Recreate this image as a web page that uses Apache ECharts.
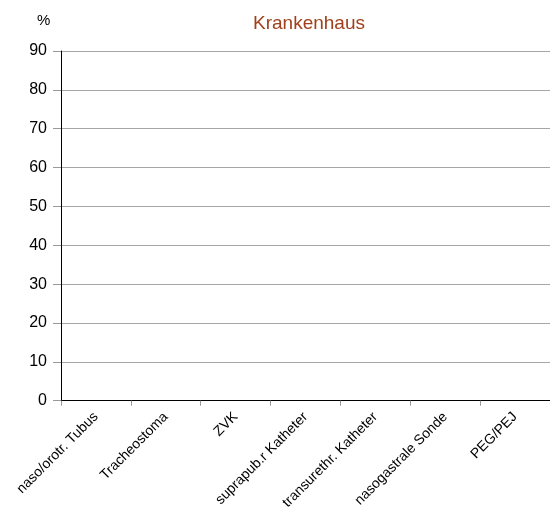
<!DOCTYPE html>
<html><head><meta charset="utf-8">
<script src="https://cdn.jsdelivr.net/npm/echarts@6/dist/echarts.min.js"></script>
<style>html,body{margin:0;padding:0;background:#fff}#c{width:550px;height:512px}</style>
</head><body><div id="c"></div>
<script>
var categories = ["naso/orotr. Tubus","Tracheostoma","ZVK","suprapub.r Katheter","transurethr. Katheter","nasogastrale Sonde","PEG/PEJ"];
var values = [0,0,0,0,0,0,0];
var yTicks = {min:0, max:90, interval:10};
var chart = echarts.init(document.getElementById('c'), null, {renderer:'canvas'});
chart.setOption({
  animation:false,
  title:{text:'Krankenhaus', left:304, top:9, textAlign:'center',
    textStyle:{color:'#A0401A', fontSize:19, fontWeight:'normal', fontFamily:'Liberation Sans, Arial, sans-serif'}},
  graphic:[{type:'text', left:37, top:13, style:{text:'%', fontSize:15, fill:'#000', fontFamily:'Liberation Sans, Arial, sans-serif'}}],
  grid:{left:61, top:51, width:491, height:353},
  xAxis:{type:'category', data:categories,
    axisLine:{lineStyle:{color:'#000', width:1}},
    axisTick:{show:true, length:5, lineStyle:{color:'#999'}},
    axisLabel:{rotate:45, fontSize:14, color:'#000', margin:14, interval:0, fontFamily:'Liberation Sans, Arial, sans-serif'}},
  yAxis:{type:'value', min:yTicks.min, max:yTicks.max, interval:yTicks.interval,
    axisLine:{show:true, lineStyle:{color:'#000'}},
    axisTick:{show:true, length:8, lineStyle:{color:'#999'}},
    axisLabel:{fontSize:16, color:'#000', margin:14, fontFamily:'Liberation Sans, Arial, sans-serif'},
    splitLine:{lineStyle:{color:'#a6a6a6'}}},
  series:[{type:'bar', data:values, itemStyle:{color:'#A0401A'}}]
});
</script></body></html>
